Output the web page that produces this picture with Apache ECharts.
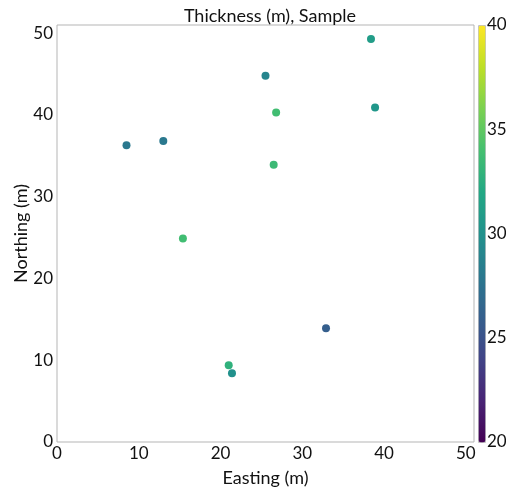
<!DOCTYPE html>
<html><head><meta charset="utf-8">
<script src="https://cdn.jsdelivr.net/npm/echarts@6/dist/echarts.min.js"></script>
<style>html,body{margin:0;padding:0;background:#fff}#c{width:506px;height:488px}</style>
</head><body><div id="c"></div>
<script>
const easting  = [38.4, 25.5, 38.9, 26.8, 8.5, 13.0, 26.5, 15.4, 32.9, 21.0, 21.4];
const northing = [49.3, 44.8, 40.9, 40.3, 36.3, 36.8, 33.9, 24.9, 13.9, 9.4, 8.4];
const thickness = [31.0, 29.0, 30.5, 33.8, 28.0, 28.0, 33.5, 33.8, 26.0, 32.8, 30.0];
const axisTicks = [0, 10, 20, 30, 40, 50];
const colorTicks = [20, 25, 30, 35, 40];
const viridis = ['#440154','#482475','#414487','#355f8d','#2a788e','#21918c','#22a884','#44bf70','#7ad151','#bddf26','#fde725'];

const data = easting.map((x, i) => [x, northing[i], thickness[i]]);
const font = 'Lato, "Open Sans", sans-serif';
const chart = echarts.init(document.getElementById('c'));
chart.setOption({
  animation: false,
  title: {text: 'Thickness (m), Sample', left: 265, textAlign: 'center', top: 2,
    textStyle: {fontFamily: font, fontSize: 18, fontWeight: 'normal', color: '#111'}},
  grid: [
    {left: 57, top: 25, width: 417, height: 417, show: true, borderColor: '#b5b5b5', borderWidth: 1, outerBoundsMode: 'none', containLabel: false},
    {left: 478, top: 25, width: 7, height: 417, show: false, outerBoundsMode: 'none', containLabel: false}
  ],
  xAxis: [
    {gridIndex: 0, type: 'value', min: 0, max: 51, interval: 10,
     name: 'Easting (m)', nameLocation: 'middle', nameGap: 27,
     nameTextStyle: {fontFamily: font, fontSize: 18, color: '#111'},
     axisLine: {show: false}, axisTick: {show: false}, splitLine: {show: false},
     axisLabel: {fontFamily: font, fontSize: 17, color: '#111', margin: 3,
       formatter: v => axisTicks.includes(v) ? String(v) : ''}},
    {gridIndex: 1, type: 'value', show: false, min: 0, max: 1}
  ],
  yAxis: [
    {gridIndex: 0, type: 'value', min: 0, max: 51, interval: 10,
     name: 'Northing (m)', nameLocation: 'middle', nameGap: 27, nameMoveOverlap: false,
     nameTextStyle: {fontFamily: font, fontSize: 18, color: '#111'},
     axisLine: {show: false}, axisTick: {show: false}, splitLine: {show: false},
     axisLabel: {fontFamily: font, fontSize: 17, color: '#111', margin: 4,
       formatter: v => axisTicks.includes(v) ? String(v) : ''}},
    {gridIndex: 1, type: 'value', position: 'right', min: colorTicks[0], max: colorTicks[colorTicks.length-1], interval: 5,
     axisLine: {show: false}, axisTick: {show: false}, splitLine: {show: false},
     axisLabel: {fontFamily: font, fontSize: 17, color: '#111', margin: 2}}
  ],
  visualMap: {
    type: 'continuous', min: 20, max: 40, seriesIndex: 0, dimension: 2,
    calculable: false, realtime: false, show: true, text: null, showLabel: false,
    left: 478, top: 25, padding: 0, itemWidth: 7, itemHeight: 417,
    borderColor: '#c0c0c0', borderWidth: 1,
    inRange: {color: viridis},
    textStyle: {color: 'transparent'}
  },
  series: [
    {type: 'scatter', xAxisIndex: 0, yAxisIndex: 0, data: data, symbolSize: 8,
     itemStyle: {opacity: 1}}
  ]
});
</script></body></html>
